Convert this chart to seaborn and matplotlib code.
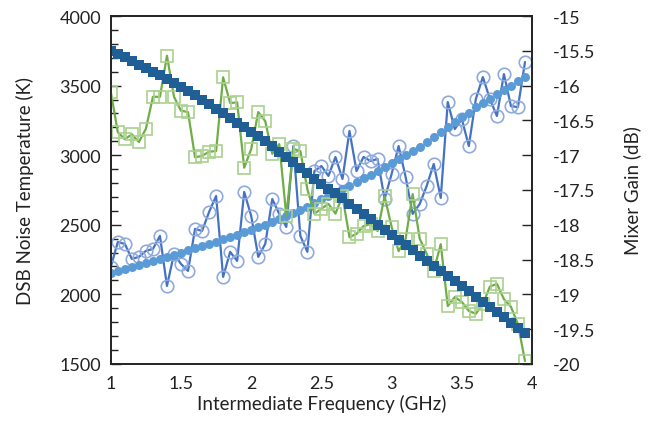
import numpy as np
import seaborn as sns
import matplotlib
matplotlib.use('Agg')
import matplotlib.pyplot as plt

# intermediate frequency grid (GHz)
freq = np.round(np.arange(1.0, 3.96, 0.05), 2)

# measured DSB noise temperature (K), left axis
noise_temp = [2197, 2376, 2362, 2254, 2269, 2312, 2326, 2420, 2060, 2290,
              2218, 2168, 2470, 2455, 2592, 2707, 2125, 2305, 2240, 2736,
              2563, 2269, 2362, 2685, 2578, 2484, 3066, 2420, 2305, 2886,
              2922, 2851, 2987, 2829, 3174, 2886, 2987, 2958, 2973, 2685,
              2865, 3066, 2843, 2578, 2649, 2779, 2937, 2693, 3382, 3188,
              3260, 3066, 3404, 3562, 3404, 3282, 3583, 3353, 3346, 3670]

# trend of noise temperature (K)
noise_trend = [2154, 2168, 2182, 2197, 2211, 2226, 2240, 2254, 2269, 2283,
               2297, 2315, 2333, 2348, 2362, 2376, 2394, 2412, 2427, 2445,
               2463, 2481, 2499, 2520, 2542, 2563, 2585, 2606, 2631, 2657,
               2682, 2707, 2732, 2757, 2782, 2807, 2833, 2858, 2886, 2915,
               2944, 2973, 3001, 3030, 3059, 3095, 3131, 3167, 3203, 3238,
               3274, 3307, 3343, 3375, 3407, 3440, 3472, 3501, 3533, 3562]

# measured mixer gain (dB), right axis
gain = [-16.09, -16.67, -16.77, -16.70, -16.81, -16.62, -16.16, -16.16, -15.57, -16.16,
        -16.36, -16.38, -17.03, -17.01, -16.95, -16.94, -15.88, -16.25, -16.24, -17.18,
        -16.91, -16.38, -16.51, -16.98, -16.84, -17.87, -16.91, -16.94, -17.49, -17.84,
        -17.77, -17.70, -17.84, -17.59, -18.18, -18.13, -18.02, -17.99, -18.09, -17.59,
        -18.03, -18.38, -18.20, -17.56, -18.20, -18.42, -18.66, -18.28, -19.17, -19.04,
        -19.11, -19.24, -19.28, -19.14, -18.89, -18.85, -19.07, -19.18, -19.43, -19.96]

# trend of mixer gain (dB)
gain_trend = [-15.50, -15.55, -15.59, -15.65, -15.70, -15.75, -15.80, -15.85, -15.91, -15.96,
              -16.02, -16.08, -16.14, -16.21, -16.27, -16.34, -16.40, -16.47, -16.53, -16.59,
              -16.66, -16.72, -16.80, -16.87, -16.95, -17.03, -17.10, -17.18, -17.26, -17.34,
              -17.41, -17.48, -17.55, -17.62, -17.70, -17.77, -17.84, -17.92, -18.00, -18.07,
              -18.15, -18.22, -18.29, -18.37, -18.45, -18.52, -18.59, -18.66, -18.74, -18.81,
              -18.88, -18.96, -19.04, -19.11, -19.18, -19.26, -19.33, -19.41, -19.48, -19.55]

x_ticks = [1, 1.5, 2, 2.5, 3, 3.5, 4]
x_labels = ['1', '1.5', '2', '2.5', '3', '3.5', '4']
left_ticks = [1500, 2000, 2500, 3000, 3500, 4000]
right_ticks = [-20, -19.5, -19, -18.5, -18, -17.5, -17, -16.5, -16, -15.5, -15]
right_labels = ['-20', '-19.5', '-19', '-18.5', '-18', '-17.5', '-17',
                '-16.5', '-16', '-15.5', '-15']

sns.set_style('white')
plt.rcParams['font.family'] = ['Lato', 'DejaVu Sans']
plt.rcParams['axes.unicode_minus'] = False

fig = plt.figure(figsize=(6.48, 4.39), dpi=100)
ax = fig.add_axes([0.171, 0.169, 0.650, 0.792])
ax2 = ax.twinx()

sns.lineplot(x=freq, y=noise_temp, ax=ax, color='#4472C4', linewidth=1.6,
             marker='o', markersize=9, markerfacecolor='none',
             markeredgecolor='#8FAADC', markeredgewidth=1.2)
sns.lineplot(x=freq, y=noise_trend, ax=ax, color='#5B9BD5', linewidth=0,
             marker='o', markersize=6.5, markeredgewidth=0)

sns.lineplot(x=freq, y=gain, ax=ax2, color='#70AD47', linewidth=1.6,
             marker='s', markersize=9, markerfacecolor='none',
             markeredgecolor='#A9D18E', markeredgewidth=1.2)
sns.lineplot(x=freq, y=gain_trend, ax=ax2, color='#1F5F96', linewidth=0,
             marker='s', markersize=6.5, markeredgewidth=0)

ax.set_xlim(1, 4)
ax.set_ylim(1500, 4000)
ax2.set_ylim(-20, -15)

ax.set_xticks(x_ticks)
ax.set_xticklabels(x_labels)
ax.set_xticks(np.arange(1, 4.001, 0.1), minor=True)
ax.set_yticks(left_ticks)
ax.set_yticklabels([str(v) for v in left_ticks])
ax.set_yticks(np.arange(1500, 4001, 100), minor=True)
ax2.set_yticks(right_ticks)
ax2.set_yticklabels(right_labels)

ax.tick_params(axis='both', which='major', direction='in', length=7, width=1,
               labelsize=13, colors='#222222', pad=7)
ax.tick_params(axis='both', which='minor', direction='in', length=5, width=1,
               colors='#222222')
ax.tick_params(axis='x', which='both', length=6)
ax.tick_params(axis='x', which='major', pad=8)
ax2.tick_params(axis='y', which='major', direction='in', length=7, width=1,
                labelsize=13, colors='#222222', pad=15)

for a in (ax, ax2):
    for s in a.spines.values():
        s.set_visible(True)
        s.set_color('#222222')
        s.set_linewidth(1.2)

ax.set_xlabel('Intermediate Frequency (GHz)', fontsize=13.5, color='#222222', labelpad=2)
ax.set_ylabel('DSB Noise Temperature (K)', fontsize=13.5, color='#222222', labelpad=18)
ax2.set_ylabel('Mixer Gain (dB)', fontsize=13.5, color='#222222', rotation=90, labelpad=20)

fig.savefig('out.png', dpi=100)
